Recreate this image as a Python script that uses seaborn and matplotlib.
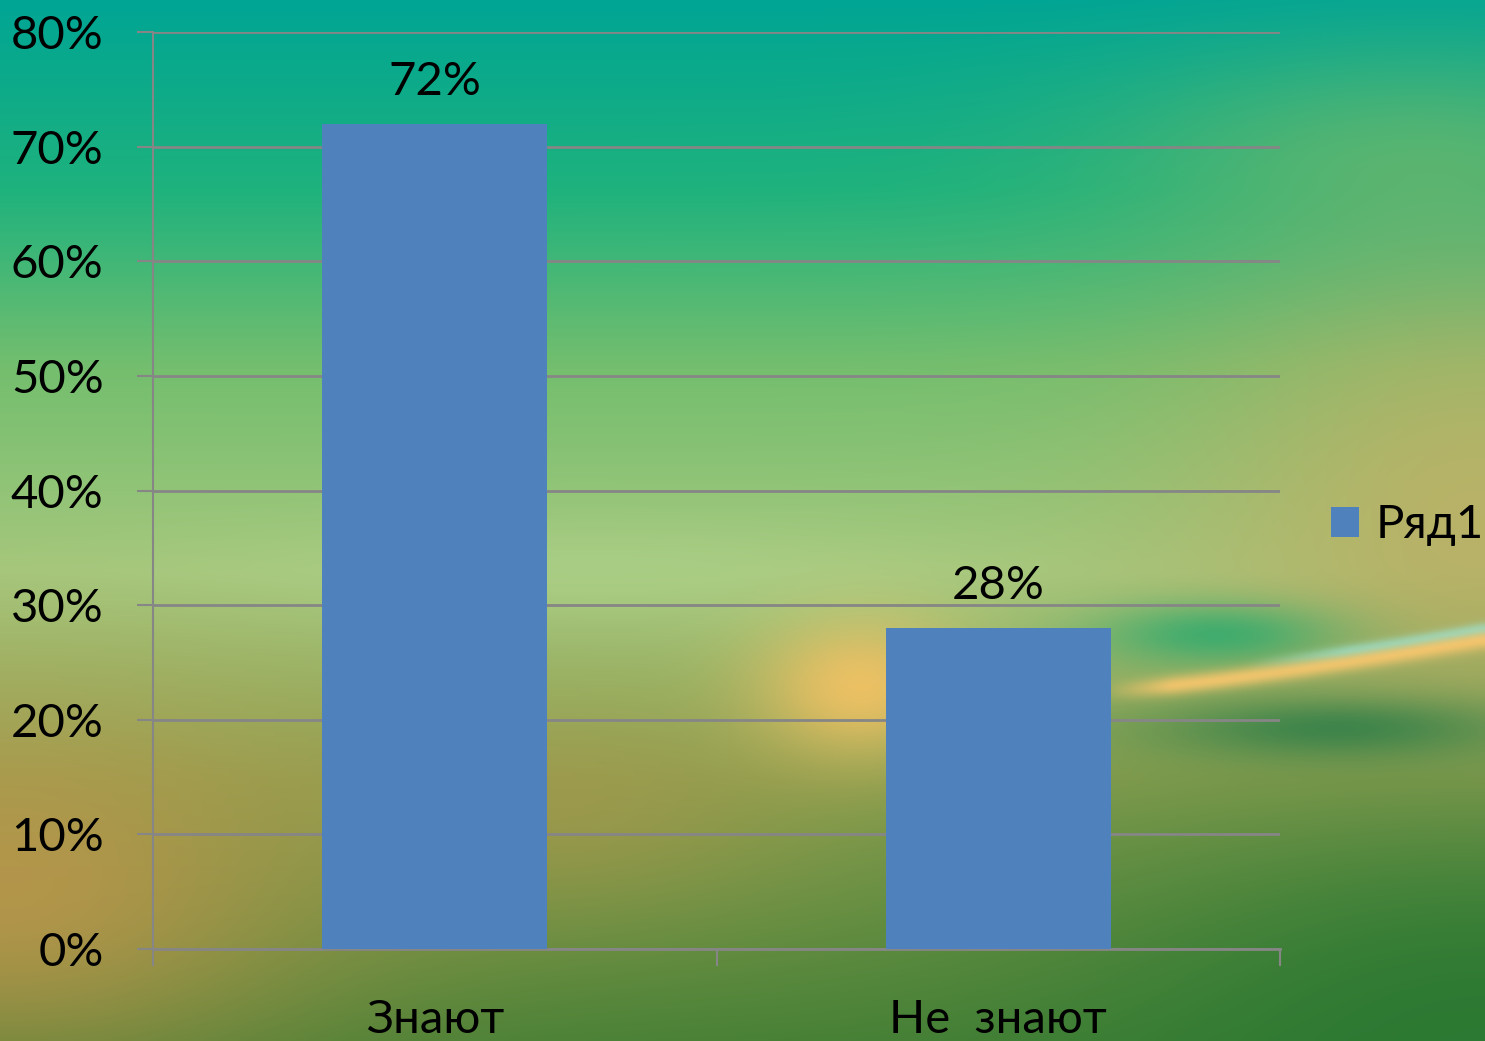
import numpy as np
import pandas as pd
import matplotlib
matplotlib.use("Agg")
import matplotlib.pyplot as plt
import seaborn as sns

# data
categories = ["Знают", "Не  знают"]
values = [0.72, 0.28]
series_name = "Ряд1"
y_ticks = [0, 0.1, 0.2, 0.3, 0.4, 0.5, 0.6, 0.7, 0.8]
y_tick_labels = ["0%", "10%", "20%", "30%", "40%", "50%", "60%", "70%", "80%"]
value_labels = ["72%", "28%"]

sns.set_theme(style="white")
plt.rcParams["font.family"] = ["Lato", "Open Sans", "DejaVu Sans"]
plt.rcParams["text.color"] = "black"

BAR = "#4f81bd"
GRID = "#868686"
FS = 34


def background(h=260, w=370):
    """Soft decorative backdrop (teal top, light green middle, warm bottom)."""
    yy, xx = np.mgrid[0:1:h * 1j, 0:1:w * 1j]
    stops = np.array([0.0, 0.18, 0.35, 0.55, 0.75, 1.0])
    cols = np.array([[0, 165, 148], [30, 178, 125], [115, 190, 110],
                     [165, 200, 125], [140, 160, 80], [75, 130, 55]], float)
    img = np.stack([np.interp(yy, stops, cols[:, c]) for c in range(3)], -1)

    def blob(cx, cy, rx, ry, color, strength=1.0):
        nonlocal img
        a = strength * np.exp(-(((xx - cx) / rx) ** 2 + ((yy - cy) / ry) ** 2))
        img = img * (1 - a[..., None]) + np.array(color, float) * a[..., None]

    blob(0.95, 0.15, 0.2, 0.1, [110, 185, 105], 0.6)
    blob(0.0, 0.86, 0.22, 0.18, [195, 150, 75], 0.8)
    blob(0.38, 0.78, 0.15, 0.1, [175, 150, 75], 0.5)
    blob(1.0, 0.5, 0.2, 0.25, [195, 175, 100], 0.8)
    blob(1.0, 1.0, 0.3, 0.25, [40, 120, 50], 0.9)
    blob(0.58, 0.66, 0.07, 0.07, [250, 195, 100], 0.85)
    blob(0.82, 0.61, 0.08, 0.03, [40, 170, 110], 0.8)
    blob(0.9, 0.7, 0.12, 0.03, [30, 120, 70], 0.7)
    blob(0.4, 0.55, 0.25, 0.05, [175, 210, 140], 0.5)
    # thin streak on the right
    curve = 0.665 - 0.05 * np.clip((xx - 0.74) / 0.26, 0, 1) ** 1.3
    a = np.exp(-((yy - curve) / 0.009) ** 2) * np.clip((xx - 0.74) * 20, 0, 1) * 0.9
    img = img * (1 - a[..., None]) + np.array([255, 200, 110]) * a[..., None]
    a = np.exp(-((yy - curve + 0.011) / 0.005) ** 2) * np.clip((xx - 0.84) * 15, 0, 1) * 0.7
    img = img * (1 - a[..., None]) + np.array([150, 230, 220]) * a[..., None]
    return np.clip(img / 255, 0, 1)


fig = plt.figure(figsize=(14.85, 10.41), dpi=100)
bg = fig.add_axes([0, 0, 1, 1], zorder=0)
bg.imshow(background(), aspect="auto", interpolation="bicubic", extent=[0, 1, 0, 1])
bg.axis("off")

ax = fig.add_axes([153 / 1485, 1 - 949 / 1041, (1280 - 153) / 1485, 917 / 1041], zorder=1)
ax.patch.set_alpha(0)

df = pd.DataFrame({"cat": categories, "val": values, "series": series_name})
sns.barplot(data=df, x="cat", y="val", hue="series", palette=[BAR],
            width=0.4, saturation=1, linewidth=0, ax=ax, zorder=3)

ax.set_xlim(-0.5, 1.5)
ax.set_ylim(0, 0.8)
ax.set_yticks(y_ticks)
ax.set_yticklabels(y_tick_labels, fontsize=FS)
ax.set_xticks([0, 1])
ax.set_xticklabels(categories, fontsize=FS)
ax.set_xticks([-0.5, 0.5, 1.5], minor=True)
ax.set_xlabel("")
ax.set_ylabel("")

ax.yaxis.grid(True, color=GRID, linewidth=2, zorder=1)
ax.tick_params(axis="y", which="major", left=True, length=11.5, width=1.5,
               color=GRID, pad=24, labelcolor="black")
ax.tick_params(axis="x", which="major", bottom=False, length=0, pad=36,
               labelcolor="black")
ax.tick_params(axis="x", which="minor", bottom=True, length=12, width=1.5, color=GRID)
for side in ["top", "right"]:
    ax.spines[side].set_visible(False)
ax.spines["left"].set_color(GRID)
ax.spines["left"].set_linewidth(1.5)
ax.spines["bottom"].set_color(GRID)
ax.spines["bottom"].set_linewidth(2)

for p, lab in zip(ax.patches, value_labels):
    ax.annotate(lab, (p.get_x() + p.get_width() / 2, p.get_height()),
                xytext=(0, 15), textcoords="offset points",
                ha="center", va="bottom", fontsize=FS, color="black")

handles, labels = ax.get_legend_handles_labels()
leg = ax.legend(handles, labels, loc="center left", bbox_to_anchor=(1.045, 0.462),
                frameon=False, fontsize=FS, handlelength=0.6, handleheight=0.6,
                handletextpad=0.35, borderaxespad=0, borderpad=0)
for t in leg.get_texts():
    t.set_color("black")

fig.savefig("out.png", dpi=100)
